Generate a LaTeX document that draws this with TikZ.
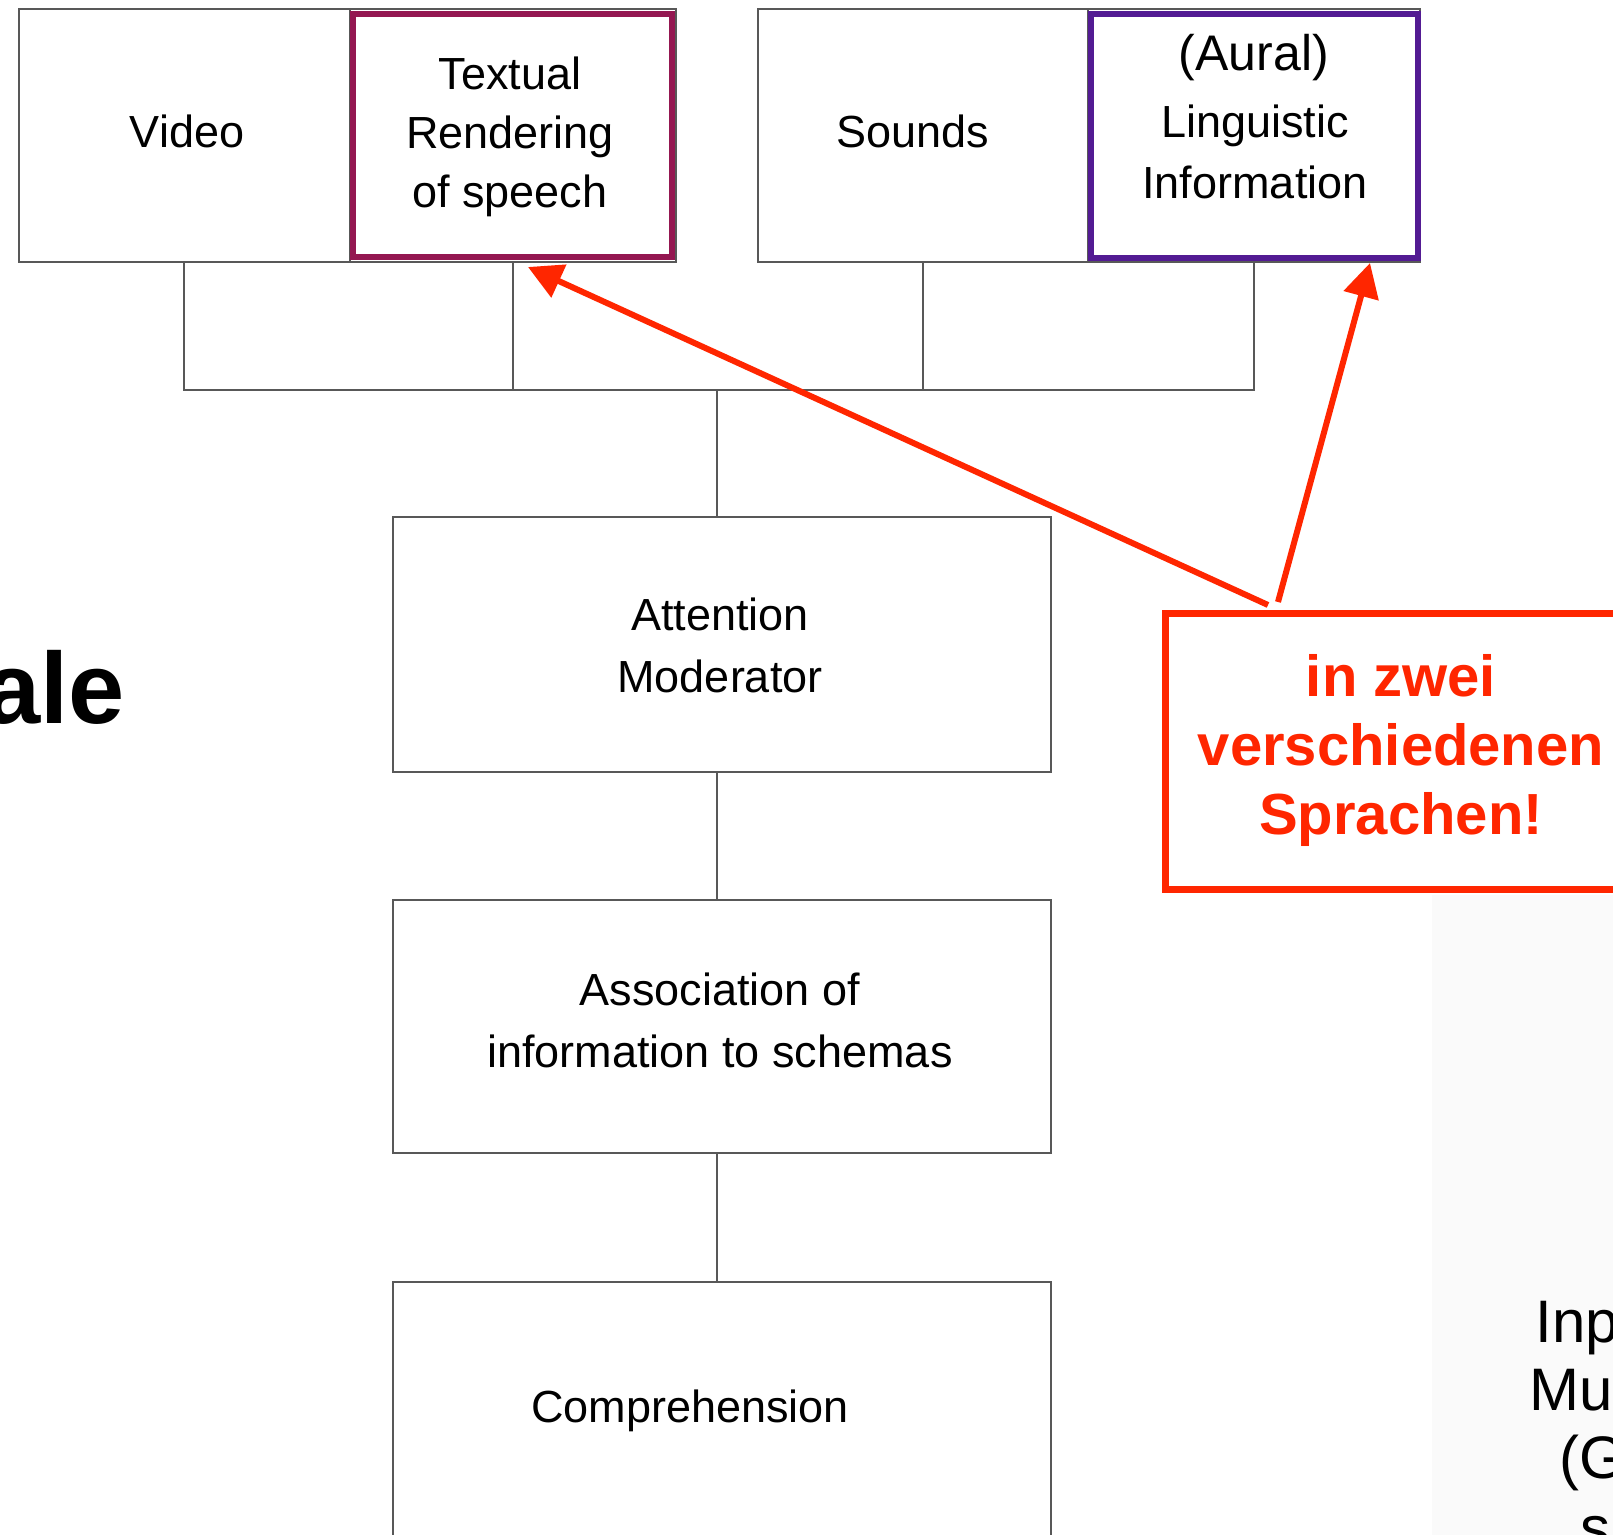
\documentclass[tikz,border=0pt]{standalone}
\usepackage{fontspec}
\setmainfont{Liberation Sans}
\usetikzlibrary{fit,arrows.meta}
\definecolor{linegray}{RGB}{88,88,88}
\definecolor{maroonc}{RGB}{148,23,81}
\definecolor{grapec}{RGB}{83,27,147}
\definecolor{alertred}{RGB}{255,38,0}
\definecolor{paper}{RGB}{250,250,250}
\begin{document}
\begin{tikzpicture}[x=0.5pt,y=-0.5pt,
  gbox/.style={draw=linegray, line width=1pt, inner sep=0pt},
  mbox/.style={draw=maroonc, line width=3pt, inner sep=0pt},
  pbox/.style={draw=grapec, line width=3pt, inner sep=0pt},
  rbox/.style={draw=alertred, line width=3.5pt, inner sep=0pt},
  gline/.style={draw=linegray, line width=1pt},
  lbl/.style={inner sep=0pt, align=center, font=\fontsize{22.5}{30}\selectfont},
  redlbl/.style={inner sep=0pt, align=center, text=alertred, font=\bfseries\fontsize{29}{34.5}\selectfont},
  sidelbl/.style={inner sep=0pt, anchor=base west, font=\fontsize{30}{36}\selectfont},
  redarrow/.style={draw=alertred, line width=3pt, -{Triangle[length=17pt,width=17.5pt]}},
]
\fill[white] (0,0) rectangle (1613,1535);
\useasboundingbox (0,0) rectangle (1613,1535);
\clip (0,0) rectangle (1613,1535);
\fill[paper] (1432,895) rectangle (1613,1535);

% boxes
\node[gbox, fit={(18.5,9) (350,262)}] (video) {};
\node[gbox, fit={(350,9) (676,262)}] (textcell) {};
\node[mbox, fit={(352.5,14.5) (672,257.5)}] (textual) {};
\node[gbox, fit={(758,9) (1087.5,262)}] (sounds) {};
\node[gbox, fit={(1087.5,9) (1420,262)}] (auralcell) {};
\node[pbox, fit={(1091,14.5) (1417.5,258)}] (aural) {};
\node[gbox, fit={(393,517) (1051.4,771.5)}] (attention) {};
\node[gbox, fit={(393,900) (1051.4,1153)}] (assoc) {};
\node[gbox, fit={(393,1282) (1051.4,1600)}] (comp) {};
\node[rbox, fit={(1165,614) (1700,889)}] (alert) {};

% labels
\node[lbl] (videotxt) at (187,131) {Video};
\node[lbl, font=\fontsize{22.5}{29.5}\selectfont] (texttxt) at (510,137) {Textual\\Rendering\\of speech};
\node[lbl] (soundstxt) at (913,131) {Sounds};
\node[lbl, font=\fontsize{25}{30}\selectfont] (auraltxt) at (1254,58) {(Aural)};
\node[lbl, font=\fontsize{22.5}{30.5}\selectfont] (lingtxt) at (1255,152) {Linguistic\\Information};
\node[lbl, font=\fontsize{22.5}{31}\selectfont] (atttxt) at (720,645.5) {Attention\\Moderator};
\node[lbl, font=\fontsize{22.5}{31}\selectfont] (assoctxt) at (720,1020.5) {Association of\\information to schemas};
\node[lbl] (comptxt) at (690,1411) {Comprehension};
\node[redlbl] (alerttxt) at (1401,751) {in zwei\\verschiedenen\\Sprachen!};
\node[inner sep=0pt, anchor=base east, font=\bfseries\fontsize{50.5}{60}\selectfont] (ale) at (125,723) {ale};
\node[sidelbl] (side1) at (1535,1342) {Inp};
\node[sidelbl] (side2) at (1529,1410) {Mu};
\node[sidelbl] (side3) at (1559,1478) {(G};
\node[sidelbl] (side4) at (1580,1548) {s};

% connectors
\coordinate (bus) at (717,390);
\draw[gline] (video.south) |- (auralcell.south |- bus) -- (auralcell.south);
\draw[gline] (textcell.south) -- (textcell.south |- bus);
\draw[gline] (sounds.south) -- (sounds.south |- bus);
\draw[gline] (bus) -- (bus |- attention.north);
\draw[gline] (bus |- attention.south) -- (bus |- assoc.north);
\draw[gline] (bus |- assoc.south) -- (bus |- comp.north);

% red arrows
\coordinate (src1) at (1268,605);
\coordinate (src2) at (1278,602);
\coordinate (tip1) at (528,267);
\coordinate (tip2) at (1370,263);
\draw[redarrow] (src1) -- (tip1);
\draw[redarrow] (src2) -- (tip2);
\end{tikzpicture}
\end{document}
